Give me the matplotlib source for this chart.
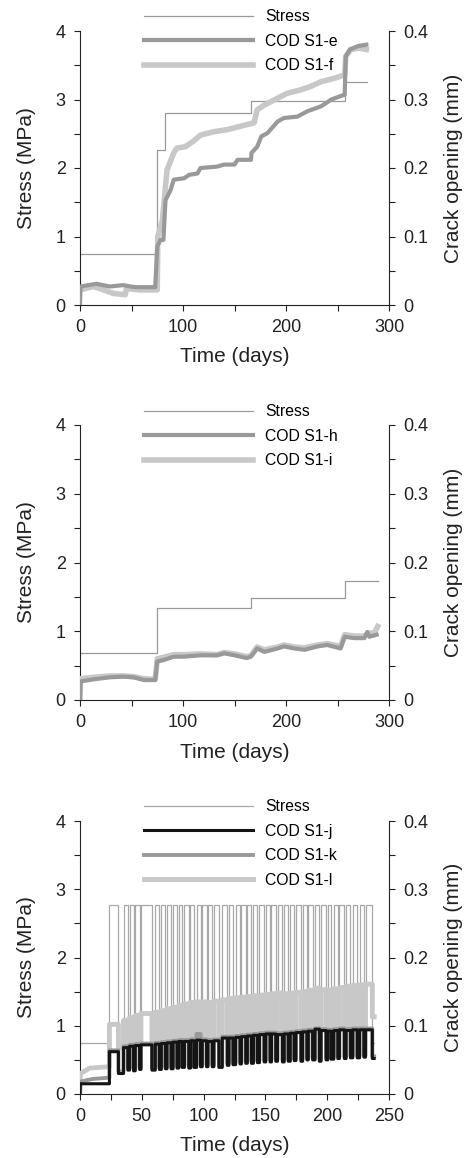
import matplotlib
matplotlib.use("Agg")
import matplotlib.pyplot as plt
from matplotlib.ticker import MultipleLocator
from matplotlib.lines import Line2D

plt.rcParams['font.family'] = ['Liberation Sans', 'DejaVu Sans']

# ---------------- Panel 1 data ----------------
p1_stress_t = [0, 74.7, 74.7, 82.2, 82.2, 165.7, 165.7, 257.7, 257.7, 278.5]
p1_stress_v = [0.745, 0.745, 2.256, 2.256, 2.797, 2.797, 2.98, 2.98, 3.255, 3.255]

p1_e_t = [0, 0.5, 16, 29, 42, 49, 55, 73, 75, 78, 81, 83, 88, 91, 101, 106, 114, 117,
          133, 140, 150, 153, 166, 166.5, 172, 176, 182, 192, 198, 211, 221, 234, 244,
          253, 257, 258, 262, 270, 278]
p1_e_v = [0.0, 0.027, 0.031, 0.027, 0.029, 0.027, 0.026, 0.026, 0.085, 0.095, 0.095,
          0.153, 0.168, 0.183, 0.185, 0.19, 0.192, 0.2, 0.202, 0.205, 0.205, 0.212, 0.212,
          0.222, 0.231, 0.246, 0.251, 0.268, 0.273, 0.275, 0.283, 0.29, 0.3, 0.305,
          0.307, 0.363, 0.373, 0.378, 0.38]

p1_f_t = [0, 13, 23, 32, 44, 45, 58, 75, 75.5, 80, 83, 84.5, 91, 94, 102, 110, 117, 130,
          143, 156, 169, 172, 179, 192, 201, 214, 224, 234, 247, 257, 258, 263, 271, 278]
p1_f_v = [0.022, 0.027, 0.022, 0.017, 0.015, 0.024, 0.022, 0.022, 0.1, 0.124, 0.173,
          0.197, 0.222, 0.229, 0.231, 0.239, 0.248, 0.253, 0.256, 0.261, 0.266, 0.285,
          0.292, 0.302, 0.309, 0.314, 0.319, 0.326, 0.331, 0.336, 0.363, 0.373, 0.375, 0.373]

# ---------------- Panel 2 data ----------------
p2_stress_t = [0, 74.8, 74.8, 165.7, 165.7, 256.8, 256.8, 289]
p2_stress_v = [0.688, 0.688, 1.333, 1.333, 1.479, 1.479, 1.736, 1.736]

p2_h_t = [0, 0.5, 13, 29, 42, 52, 62, 73, 75, 81, 91, 101, 117, 133, 140, 150, 162, 166,
          172, 179, 192, 198, 208, 218, 231, 240, 253, 257, 266, 276, 279, 281, 288]
p2_h_v = [0.0, 0.027, 0.030, 0.033, 0.034, 0.033, 0.029, 0.029, 0.056, 0.058, 0.063,
          0.063, 0.065, 0.065, 0.068, 0.065, 0.061, 0.063, 0.075, 0.070, 0.075, 0.078,
          0.075, 0.073, 0.078, 0.080, 0.075, 0.092, 0.090, 0.090, 0.099, 0.092, 0.095]

p2_i_t = [0, 0.5, 13, 29, 42, 52, 62, 73, 75, 81, 91, 101, 117, 133, 140, 150, 162, 166,
          172, 179, 192, 198, 208, 218, 231, 240, 253, 257, 266, 276, 280, 286, 289]
p2_i_v = [0.0, 0.031, 0.033, 0.035, 0.035, 0.034, 0.031, 0.030, 0.060, 0.062, 0.066,
          0.066, 0.067, 0.066, 0.069, 0.067, 0.063, 0.065, 0.077, 0.073, 0.077, 0.080,
          0.077, 0.076, 0.080, 0.082, 0.078, 0.095, 0.093, 0.093, 0.097, 0.098, 0.107]

# ---------------- Panel 3 data ----------------
p3_on = [23.8, 35.2, 40.1, 44.7, 49.3, 60.9, 65.8, 70.4, 75.3, 79.9, 84.5, 89.4, 94.3,
         98.9, 103.5, 108.3, 115.1, 120.5, 125.9, 130.6, 135.4, 140.3, 145.2, 150.3,
         154.9, 159.8, 165.2, 170.1, 174.7, 180.1, 184.7, 190.1, 195.0, 200.4, 205.3,
         209.9, 215.3, 220.7, 226.2, 231.0]
p3_off = [31.1, 38.7, 43.3, 48.2, 58.2, 64.2, 69.1, 73.7, 78.5, 82.6, 88.0, 92.1, 97.5,
          102.4, 107.0, 112.4, 119.2, 123.8, 129.5, 134.1, 138.7, 143.5, 149.0, 153.8,
          158.4, 163.8, 168.5, 173.3, 178.8, 183.6, 188.2, 193.7, 199.1, 203.1, 208.6,
          213.9, 218.8, 224.3, 229.7, 236.5]
p3_end = 238.0
p3_stress_high = 2.77
p3_stress_low = 0.75

p3_j_pre_t = [0, 0.3, 23.8]
p3_j_pre_v = [0.0, 0.015, 0.015]
p3_j_high = [0.062, 0.068, 0.070, 0.071, 0.072, 0.073, 0.074, 0.075, 0.076, 0.077,
             0.077, 0.078, 0.079, 0.078, 0.077, 0.078, 0.082, 0.082, 0.083, 0.084,
             0.085, 0.086, 0.087, 0.088, 0.088, 0.087, 0.088, 0.089, 0.090, 0.091,
             0.092, 0.095, 0.093, 0.092, 0.093, 0.094, 0.093, 0.094, 0.094, 0.094]
p3_j_low = [0.030, 0.035, 0.034, 0.036, 0.035, 0.036, 0.037, 0.037, 0.038, 0.039,
            0.038, 0.039, 0.040, 0.040, 0.040, 0.039, 0.042, 0.043, 0.044, 0.045,
            0.045, 0.046, 0.047, 0.047, 0.048, 0.047, 0.048, 0.049, 0.048, 0.050,
            0.050, 0.048, 0.050, 0.051, 0.052, 0.052, 0.053, 0.053, 0.054, 0.052]

p3_k_pre_t = [0, 0.3, 10, 23.8]
p3_k_pre_v = [0.0, 0.018, 0.022, 0.024]
p3_k_high = [0.064, 0.070, 0.072, 0.073, 0.074, 0.075, 0.076, 0.077, 0.078, 0.079,
             0.079, 0.080, 0.088, 0.080, 0.079, 0.080, 0.084, 0.084, 0.085, 0.086,
             0.087, 0.088, 0.089, 0.090, 0.090, 0.089, 0.090, 0.091, 0.092, 0.093,
             0.094, 0.096, 0.095, 0.094, 0.095, 0.096, 0.095, 0.096, 0.096, 0.096]
p3_k_low = [0.033, 0.038, 0.037, 0.039, 0.038, 0.039, 0.040, 0.040, 0.041, 0.042,
            0.041, 0.042, 0.043, 0.043, 0.043, 0.042, 0.045, 0.046, 0.047, 0.048,
            0.048, 0.049, 0.050, 0.050, 0.051, 0.050, 0.051, 0.052, 0.051, 0.053,
            0.053, 0.051, 0.053, 0.054, 0.055, 0.055, 0.056, 0.056, 0.057, 0.055]

p3_l_pre_t = [0, 0.3, 8, 23.8]
p3_l_pre_v = [0.0, 0.030, 0.038, 0.040]
p3_l_high = [0.102, 0.108, 0.112, 0.115, 0.118, 0.120, 0.122, 0.125, 0.127, 0.130,
             0.132, 0.134, 0.135, 0.135, 0.134, 0.136, 0.138, 0.140, 0.141, 0.142,
             0.143, 0.144, 0.145, 0.146, 0.147, 0.148, 0.147, 0.148, 0.149, 0.150,
             0.152, 0.155, 0.153, 0.152, 0.154, 0.156, 0.158, 0.159, 0.160, 0.161]
p3_l_low = [0.068, 0.075, 0.076, 0.077, 0.078, 0.078, 0.079, 0.080, 0.080, 0.081,
            0.081, 0.082, 0.082, 0.083, 0.083, 0.080, 0.084, 0.085, 0.085, 0.086,
            0.086, 0.087, 0.087, 0.088, 0.088, 0.089, 0.089, 0.090, 0.090, 0.090,
            0.091, 0.091, 0.092, 0.092, 0.093, 0.093, 0.094, 0.094, 0.095, 0.113]

# ---------------- styles ----------------
C_STRESS = '#9a9a9a'
C_MED = '#999999'
C_LIGHT = '#c8c8c8'
C_BLACK = '#141414'
AX_COLOR = '#222222'
TICK_FS = 13
LABEL_FS = 15
LEG_FS = 11.3

W, H = 470, 1158
fig = plt.figure(figsize=(W / 100, H / 100), dpi=100)


def px_axes(left, top, right, bottom):
    return [left / W, 1 - bottom / H, (right - left) / W, (bottom - top) / H]


def style(ax1, ax2, xmax, xmajor, xminor):
    ax1.set_xlim(0, xmax)
    ax1.set_ylim(0, 4)
    ax2.set_ylim(0, 0.4)
    ax1.xaxis.set_major_locator(MultipleLocator(xmajor))
    ax1.xaxis.set_minor_locator(MultipleLocator(xminor))
    ax1.yaxis.set_major_locator(MultipleLocator(1))
    ax1.yaxis.set_minor_locator(MultipleLocator(0.5))
    ax2.set_yticks([0, 0.1, 0.2, 0.3, 0.4])
    ax2.set_yticklabels(['0', '0.1', '0.2', '0.3', '0.4'])
    ax2.yaxis.set_minor_locator(MultipleLocator(0.05))
    for ax in (ax1, ax2):
        ax.spines['top'].set_visible(False)
        for s in ax.spines.values():
            s.set_color(AX_COLOR)
            s.set_linewidth(0.8)
        ax.tick_params(which='both', direction='out', length=4.3, width=0.8,
                       color=AX_COLOR, labelsize=TICK_FS, labelcolor=AX_COLOR, pad=6)
    ax1.spines['right'].set_visible(False)
    ax2.spines['left'].set_visible(False)
    ax2.spines['bottom'].set_visible(False)
    ax1.set_xlabel('Time (days)', fontsize=LABEL_FS, color=AX_COLOR)
    ax1.set_ylabel('Stress (MPa)', fontsize=LABEL_FS, color=AX_COLOR)
    ax2.set_ylabel('Crack opening (mm)', fontsize=LABEL_FS, color=AX_COLOR)
    ax1.xaxis.set_label_coords(0.5, -0.155)
    ax1.yaxis.set_label_coords(-0.142, 0.5)
    ax2.yaxis.set_label_coords(1.178, 0.5)


def legend(ax, handles, labels, ytop):
    ax.legend(handles, labels, loc='upper left', bbox_to_anchor=(0.207, ytop),
              borderaxespad=0, borderpad=0, frameon=False, fontsize=LEG_FS,
              handlelength=6.94, handletextpad=0.8, labelspacing=0.61)


# ---------------- Panel 1 ----------------
a1 = fig.add_axes(px_axes(80, 31, 389, 305))
b1 = a1.twinx()
a1.plot(p1_stress_t, p1_stress_v, color=C_STRESS, lw=0.9)
b1.plot(p1_f_t, p1_f_v, color=C_LIGHT, lw=4.0, solid_joinstyle='round')
b1.plot(p1_e_t, p1_e_v, color=C_MED, lw=3.0, solid_joinstyle='round')
style(a1, b1, 300, 100, 50)
legend(b1, [Line2D([], [], color=C_STRESS, lw=0.9),
            Line2D([], [], color=C_MED, lw=3.0),
            Line2D([], [], color=C_LIGHT, lw=4.0)],
       ['Stress', 'COD S1-e', 'COD S1-f'], 1.080)

# ---------------- Panel 2 ----------------
a2 = fig.add_axes(px_axes(80, 425, 389, 700))
b2 = a2.twinx()
a2.plot(p2_stress_t, p2_stress_v, color=C_STRESS, lw=0.9)
b2.plot(p2_i_t, p2_i_v, color=C_LIGHT, lw=4.0, solid_joinstyle='round')
b2.plot(p2_h_t, p2_h_v, color=C_MED, lw=3.0, solid_joinstyle='round')
style(a2, b2, 300, 100, 50)
legend(b2, [Line2D([], [], color=C_STRESS, lw=0.9),
            Line2D([], [], color=C_MED, lw=3.0),
            Line2D([], [], color=C_LIGHT, lw=4.0)],
       ['Stress', 'COD S1-h', 'COD S1-i'], 1.0756)


# ---------------- Panel 3 ----------------
def stress_cycles(on, off, hi, lo, end):
    t, v = [0.0, on[0]], [lo, lo]
    for i in range(len(on)):
        t += [on[i], off[i], off[i]]
        v += [hi, hi, lo]
        nxt = on[i + 1] if i + 1 < len(on) else end
        t += [nxt]
        v += [lo]
    return t, v


def cod_cycles(pre_t, pre_v, on, off, hi, lo, end):
    t, v = list(pre_t), list(pre_v)
    for i in range(len(on)):
        t += [on[i], off[i], off[i]]
        v += [hi[i], hi[i], lo[i]]
        nxt = on[i + 1] if i + 1 < len(on) else end
        t += [nxt]
        v += [lo[i]]
    return t, v


a3 = fig.add_axes(px_axes(80, 821, 389, 1094))
b3 = a3.twinx()
st, sv = stress_cycles(p3_on, p3_off, p3_stress_high, p3_stress_low, p3_end)
a3.plot(st, sv, color='#a8a8a8', lw=0.9)
lt, lv = cod_cycles(p3_l_pre_t, p3_l_pre_v, p3_on, p3_off, p3_l_high, p3_l_low, p3_end)
kt, kv = cod_cycles(p3_k_pre_t, p3_k_pre_v, p3_on, p3_off, p3_k_high, p3_k_low, p3_end)
jt, jv = cod_cycles(p3_j_pre_t, p3_j_pre_v, p3_on, p3_off, p3_j_high, p3_j_low, p3_end)
b3.plot(lt, lv, color=C_LIGHT, lw=3.5)
b3.plot(kt, kv, color=C_MED, lw=2.8)
b3.plot(jt, jv, color=C_BLACK, lw=2.2)
style(a3, b3, 250, 50, 25)
legend(b3, [Line2D([], [], color='#a8a8a8', lw=0.9),
            Line2D([], [], color=C_BLACK, lw=2.2),
            Line2D([], [], color=C_MED, lw=2.8),
            Line2D([], [], color=C_LIGHT, lw=3.5)],
       ['Stress', 'COD S1-j', 'COD S1-k', 'COD S1-l'], 1.080)

fig.savefig('out.png', dpi=100)
